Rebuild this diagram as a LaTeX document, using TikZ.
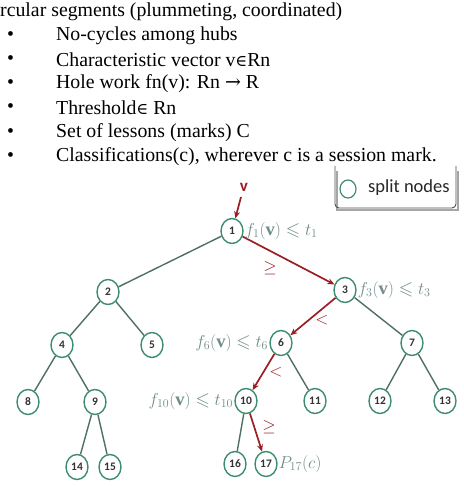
\documentclass[tikz,border=0pt]{standalone}
\usepackage{amssymb}
\usepackage{fontspec}
\setmainfont{Liberation Serif}
\newfontfamily\calib{Carlito}
\newfontfamily\dvs{DejaVu Serif}
\usetikzlibrary{shapes.geometric,arrows.meta}
\definecolor{nodecol}{HTML}{3E8C6E}
\definecolor{edgecol}{HTML}{4F6F64}
\definecolor{labcol}{HTML}{6F8C8A}
\definecolor{arrcol}{HTML}{9A1F24}
\newcommand{\elm}{{\dvs\fontsize{16}{16}\selectfont ∈}}
\newcommand{\rarr}{{\dvs\fontsize{19}{19}\selectfont →}}
\tikzset{
  tn/.style={ellipse, draw=nodecol, line width=1.4pt, fill=white, minimum width=22pt, minimum height=25pt, inner sep=0pt, font=\calib\fontsize{11.5}{11.5}\selectfont\bfseries, text=black!80},
  edge/.style={draw=edgecol, line width=1.4pt},
  redarr/.style={draw=arrcol, line width=1.7pt, -{Stealth[length=7pt,width=6pt]}},
  flab/.style={text=labcol, font=\fontsize{18.5}{18.5}\selectfont, inner sep=1pt},
  rlab/.style={text=arrcol, font=\fontsize{16}{16}\selectfont, inner sep=0pt},
  txt/.style={anchor=west, inner sep=0pt, font=\fontsize{19.8}{24}\selectfont}
}
\begin{document}
\begin{tikzpicture}[x=1pt,y=-1pt]
\useasboundingbox (0,0) rectangle (463,486);
% text
\node[txt] (t0) at (0,12) {rcular segments (plummeting, coordinated)};
\foreach \i/\yy/\s in {1/36/{No-cycles among hubs},2/60/{Characteristic vector v\elm Rn},3/84/{Hole work fn(v): Rn \rarr\ R},4/108/{Threshold\elm\ Rn},5/133/{Set of lessons (marks) C},6/157/{Classifications(c), wherever c is a session mark.}}{
  \node[txt] (b\i) at (7,\yy) {•};
  \node[txt] (l\i) at (56,\yy) {\s};
}
% legend
\draw[line width=2.2pt, black!35] (337,171) -- (337,210) -- (458,210) -- (458,171);
\draw[line width=0.9pt, black!70, rounded corners=4pt] (335,166) -- (335,208) -- (456,208) -- (456,166);
\node[ellipse, draw=nodecol, line width=1.2pt, minimum width=16pt, minimum height=18pt, inner sep=0pt] (lg) at (348,189) {};
\node[anchor=west, inner sep=0pt, font=\calib\fontsize{18.5}{18.5}\selectfont, text=black!85] (lgt) at (368,188) {split nodes};
% tree nodes
\node[tn] (n1) at (232,231) {1};
\node[tn] (n2) at (108,292) {2};
\node[tn] (n3) at (345,290) {3};
\node[tn] (n4) at (62,345) {4};
\node[tn] (n5) at (152,345) {5};
\node[tn] (n6) at (281,343) {6};
\node[tn] (n7) at (412,343) {7};
\node[tn] (n8) at (28,402) {8};
\node[tn] (n9) at (95,402) {9};
\node[tn] (n10) at (246,401) {10};
\node[tn] (n11) at (315,401) {11};
\node[tn] (n12) at (380,401) {12};
\node[tn] (n13) at (445,401) {13};
\node[tn] (n14) at (77,467) {14};
\node[tn] (n15) at (110,467) {15};
\node[tn] (n16) at (235,464) {16};
\node[tn] (n17) at (266,464) {17};
% edges
\draw[edge] (n1) -- (n2);
\draw[edge] (n2) -- (n4);
\draw[edge] (n2) -- (n5);
\draw[edge] (n4) -- (n8);
\draw[edge] (n4) -- (n9);
\draw[edge] (n9) -- (n14);
\draw[edge] (n9) -- (n15);
\draw[edge] (n3) -- (n7);
\draw[edge] (n7) -- (n12);
\draw[edge] (n7) -- (n13);
\draw[edge] (n6) -- (n11);
\draw[edge] (n10) -- (n16);
% red path
\node[text=arrcol, font=\calib\bfseries\fontsize{17}{17}\selectfont, inner sep=0pt] (vin) at (244,187) {v};
\coordinate (vst) at (241,197);
\draw[redarr] (vst) -- (n1);
\draw[redarr] (n1) -- (n3);
\draw[redarr] (n3) -- (n6);
\draw[redarr] (n6) -- (n10);
\draw[redarr] (n10) -- (n17);
\node[rlab] (g1) at (270,268) {$\geq$};
\node[rlab] (s1) at (322,320) {$<$};
\node[rlab] (s2) at (276,372) {$<$};
\node[rlab] (g2) at (269,427) {$\geq$};
% function labels
\node[flab, anchor=west] (f1) at (n1.east) {$f_1(\mathbf{v})\leqslant t_1$};
\node[flab, anchor=west] (f3) at (n3.east) {$f_3(\mathbf{v})\leqslant t_3$};
\node[flab, anchor=east] (f6) at (n6.west) {$f_6(\mathbf{v})\leqslant t_6$};
\node[flab, anchor=east] (f10) at (n10.west) {$f_{10}(\mathbf{v})\leqslant t_{10}$};
\node[flab, anchor=west] (p17) at (n17.east) {$P_{17}(c)$};
\end{tikzpicture}
\end{document}
